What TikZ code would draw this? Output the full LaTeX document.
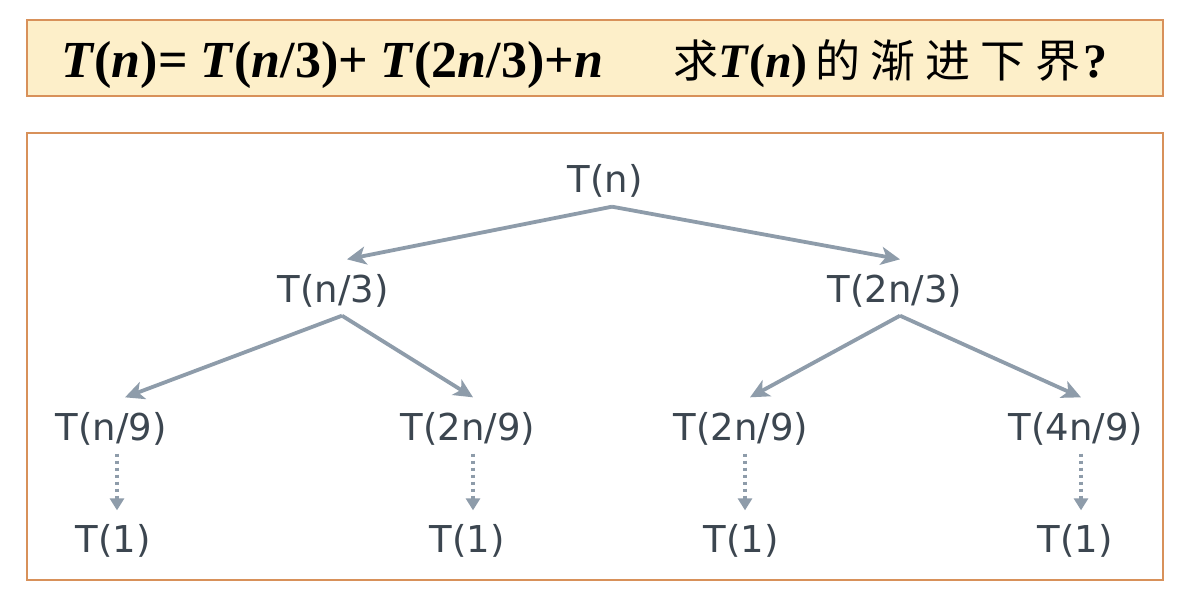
\documentclass[tikz,border=0pt]{standalone}
\usepackage{fontspec}
\setmainfont{Liberation Serif}
\setsansfont{DejaVu Sans}
\newfontfamily\cjk{Noto Sans CJK SC}
\usetikzlibrary{arrows.meta}
\definecolor{boxfill}{HTML}{FDEFC9}
\definecolor{boxline}{HTML}{D8915A}
\definecolor{arr}{HTML}{8E9CAA}
\definecolor{txt}{HTML}{3C4650}
\newcommand{\vi}[1]{\textbf{\textit{#1}}}
\begin{document}
\begin{tikzpicture}[x=1pt,y=-1pt,
  lbl/.style={font=\sffamily\fontsize{37}{37}\selectfont, text=txt, inner sep=0pt},
  edge/.style={draw=arr, line width=3.8pt, -{Stealth[length=19pt,width=18pt,inset=5pt]}},
  dotarrow/.style={draw=arr, line width=4pt, dash pattern=on 3.5pt off 3.5pt, -{Triangle[length=12pt,width=14pt]}},
  frame/.style={draw=boxline, line width=1.6pt}]
\useasboundingbox (0,0) rectangle (1198,598);
\fill[white] (0,0) rectangle (1198,598);
% top box
\draw[frame, fill=boxfill] (27,20) rectangle (1163,96);
\node[anchor=base west, inner sep=0pt, font=\fontsize{52}{52}\selectfont\bfseries] (eq) at (61,77)
  {\vi{T}(\vi{n})= \vi{T}(\vi{n}/3)+ \vi{T}(2\vi{n}/3)+\vi{n}};
\node[anchor=base west, inner sep=0pt, font=\fontsize{48}{48}\selectfont] (q) at (673,77)
  {{\fontsize{45}{45}\selectfont\cjk 求}\textbf{\vi{T}(\vi{n})}\hspace{8pt}{\fontsize{45}{45}\selectfont\cjk 的\hspace{10pt}渐\hspace{10pt}进\hspace{10pt}下\hspace{10pt}界}\hspace{3pt}\textbf{?}};
% lower box
\draw[frame, fill=white] (27,133) rectangle (1163,580);
% tree nodes
\node[lbl] (r) at (605,181) {T(n)};
\node[lbl] (a) at (333,291) {T(n/3)};
\node[lbl] (b) at (895,291) {T(2n/3)};
\node[lbl] (aa) at (111,429) {T(n/9)};
\node[lbl] (ab) at (468,429) {T(2n/9)};
\node[lbl] (ba) at (741,429) {T(2n/9)};
\node[lbl] (bb) at (1076,429) {T(4n/9)};
\node[lbl] (l1) at (113,541) {T(1)};
\node[lbl] (l2) at (467,541) {T(1)};
\node[lbl] (l3) at (741,541) {T(1)};
\node[lbl] (l4) at (1075,541) {T(1)};
% edges
\draw[edge] ([xshift=7pt,yshift=-9pt]r.south) -- ([xshift=14pt,yshift=15pt]a.north);
\draw[edge] ([xshift=7pt,yshift=-9pt]r.south) -- ([xshift=5pt,yshift=15pt]b.north);
\draw[edge] ([xshift=9pt,yshift=-8pt]a.south) -- ([xshift=14pt,yshift=15pt]aa.north);
\draw[edge] ([xshift=9pt,yshift=-8pt]a.south) -- ([xshift=5pt,yshift=15pt]ab.north);
\draw[edge] ([xshift=5pt,yshift=-8pt]b.south) -- ([xshift=9pt,yshift=15pt]ba.north);
\draw[edge] ([xshift=5pt,yshift=-8pt]b.south) -- ([xshift=5pt,yshift=15pt]bb.north);
% dotted arrows
\draw[dotarrow] ([xshift=6pt,yshift=-8pt]aa.south) -- ([xshift=4pt,yshift=14pt]l1.north);
\draw[dotarrow] ([xshift=5pt,yshift=-8pt]ab.south) -- ([xshift=6pt,yshift=14pt]l2.north);
\draw[dotarrow] ([xshift=4pt,yshift=-8pt]ba.south) -- ([xshift=4pt,yshift=14pt]l3.north);
\draw[dotarrow] ([xshift=5pt,yshift=-8pt]bb.south) -- ([xshift=6pt,yshift=14pt]l4.north);
\end{tikzpicture}
\end{document}
